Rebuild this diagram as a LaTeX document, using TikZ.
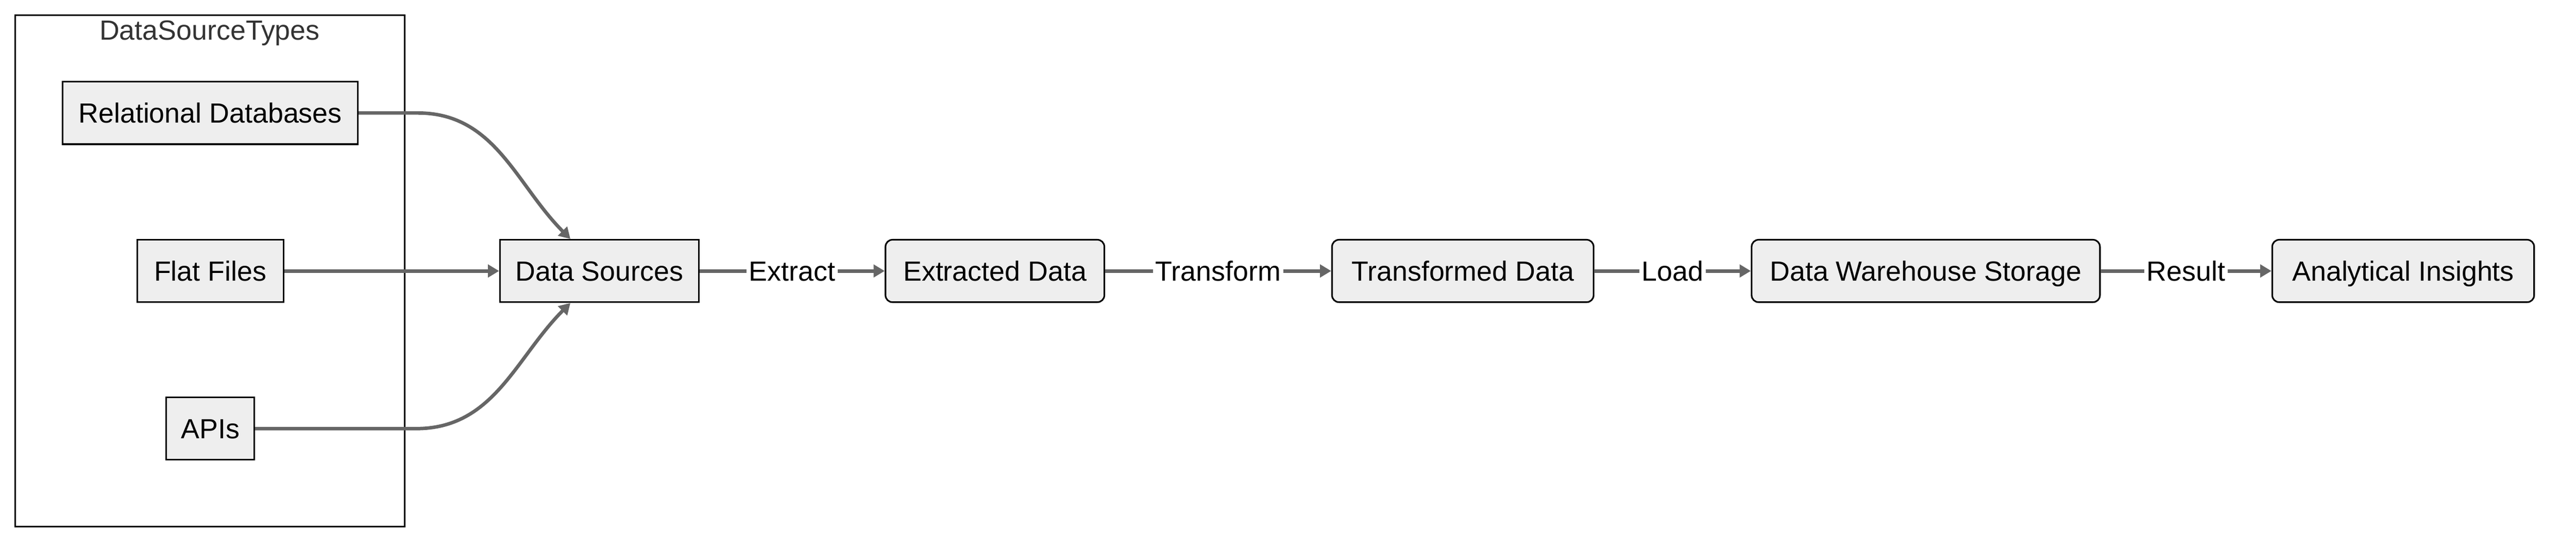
\documentclass[tikz,border=0pt]{standalone}
\usepackage{fontspec}
\setmainfont{Liberation Sans}
\usetikzlibrary{arrows.meta}
\definecolor{boxfill}{HTML}{EEEEEE}
\definecolor{linegray}{HTML}{666666}
\definecolor{titlegray}{HTML}{333333}
\tikzset{
  srcbox/.style={draw=black,fill=boxfill,line width=0.7pt,minimum height=0.95cm,
    inner sep=0pt,text height=8.6pt,text depth=0pt,font=\fontsize{12}{14}\selectfont},
  stagebox/.style={srcbox,rounded corners=3pt},
  flow/.style={draw=linegray,line width=1.5pt,-{Triangle[length=0.17cm,width=0.19cm]}},
  lbl/.style={fill=white,inner sep=1pt,text height=8.6pt,text depth=0pt,
    font=\fontsize{12}{14}\selectfont}
}
\begin{document}
\begin{tikzpicture}
        \useasboundingbox (0,0) rectangle (39.2,-8.35);
        \draw[line width=0.7pt] (0.23,-0.23) rectangle (6.16,-8.015);
        \node[text=titlegray,font=\fontsize{12}{14}\selectfont] (title) at (3.19,-0.505) {DataSourceTypes};
        \node[srcbox,minimum width=4.49cm] (rel) at (3.2,-1.72) {Relational Databases};
        \node[srcbox,minimum width=2.225cm] (flat) at (3.2,-4.125) {Flat Files};
        \node[srcbox,minimum width=1.34cm] (apis) at (3.2,-6.525) {APIs};
        \node[srcbox,minimum width=3.025cm] (src) at (9.12,-4.125) {Data Sources};
        \node[stagebox,minimum width=3.33cm] (ext) at (15.14,-4.125) {Extracted Data};
        \node[stagebox,minimum width=3.98cm] (trans) at (22.26,-4.125) {Transformed Data};
        \node[stagebox,minimum width=5.3cm] (dws) at (29.305,-4.125) {Data Warehouse Storage};
        \node[stagebox,minimum width=3.985cm] (insights) at (36.57,-4.125) {Analytical Insights};
        \draw[flow]
          (rel.east)
          -- ++(0.9,0)
          to[out=0,in=135] ([xshift=-0.44cm]src.north)
        ;
        \draw[flow] (flat) -- (src);
        \draw[flow]
          (apis.east)
          -- ++(2.45,0)
          to[out=0,in=225] ([xshift=-0.44cm]src.south)
        ;
        \draw[flow]
          (src)
          -- node[lbl]{Extract} (ext);
        \draw[flow]
          (ext)
          -- node[lbl]{Transform} (trans);
        \draw[flow]
          (trans)
          -- node[lbl]{Load} (dws);
        \draw[flow]
          (dws)
          -- node[lbl]{Result} (insights);
      \end{tikzpicture}
\end{document}
